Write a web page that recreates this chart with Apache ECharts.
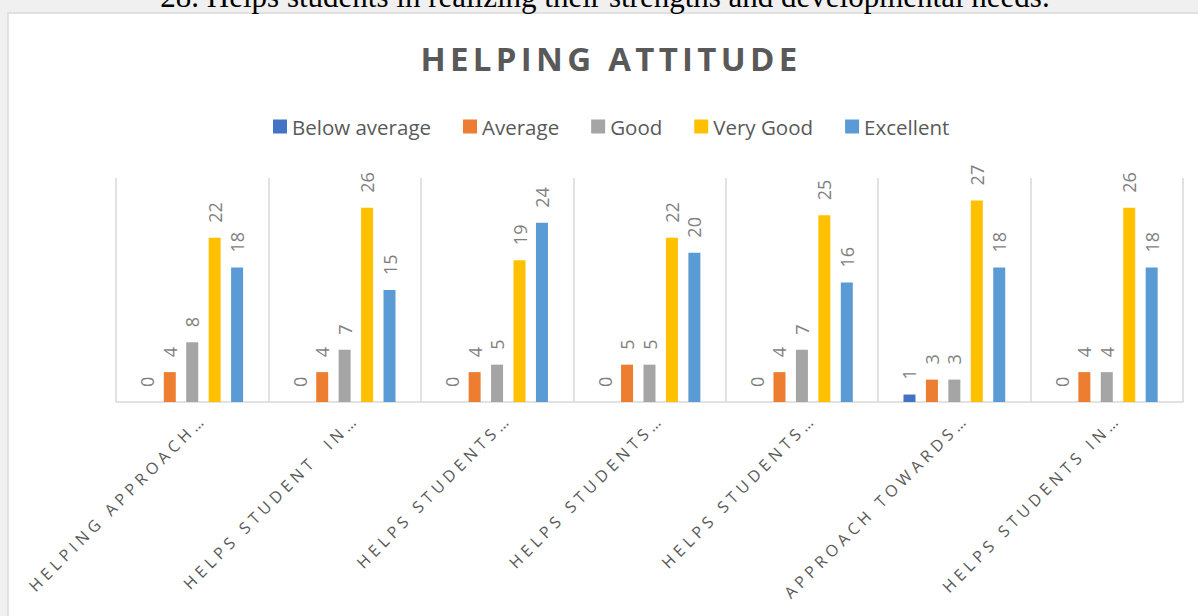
<!DOCTYPE html>
<html>
<head>
<meta charset="utf-8">
<script src="https://cdn.jsdelivr.net/npm/echarts@6/dist/echarts.min.js"></script>
<style>
body { margin: 0; background: #f0f0f0; }
#main { width: 1198px; height: 616px; }
/* excel style spaced caps for title and category labels */
#main text[style*="33px"] { letter-spacing: 4.3px; }
#main text[style*="16px"] { letter-spacing: 4.5px; }
</style>
</head>
<body>
<div id="main"></div>
<script>
var heading = '28. Helps students in realizing their strengths and developmental needs.';
var chartTitle = 'HELPING ATTITUDE';
var categories = ['HELPING APPROACH\u2026', 'HELPS STUDENT  IN\u2026', 'HELPS STUDENTS\u2026', 'HELPS STUDENTS\u2026', 'HELPS STUDENTS\u2026', 'APPROACH TOWARDS\u2026', 'HELPS STUDENTS IN\u2026'];
var seriesNames = ['Below average', 'Average', 'Good', 'Very Good', 'Excellent'];
var belowAverage = [0, 0, 0, 0, 0, 1, 0];
var average = [4, 4, 4, 5, 4, 3, 4];
var good = [8, 7, 5, 5, 7, 3, 4];
var veryGood = [22, 26, 19, 22, 25, 27, 26];
var excellent = [18, 15, 24, 20, 16, 18, 18];
var colors = ['#4472c4', '#ed7d31', '#a5a5a5', '#ffc000', '#5b9bd5'];

var allValues = [belowAverage, average, good, veryGood, excellent];

var series = [];
for (var i = 0; i < seriesNames.length; i++) {
    series.push({
        name: seriesNames[i],
        type: 'bar',
        data: allValues[i],
        barWidth: 12,
        barGap: '87%',
        itemStyle: { color: colors[i] },
        label: {
            show: true,
            position: 'top',
            rotate: 90,
            align: 'left',
            verticalAlign: 'middle',
            distance: 15,
            color: '#7f7f7f',
            fontSize: 18,
            fontFamily: 'Open Sans'
        }
    });
}

var myChart = echarts.init(document.getElementById('main'), null, { renderer: 'svg' });

var option = {
    backgroundColor: '#f0f0f0',
    animation: false,
    color: colors,
    graphic: [
        {
            type: 'rect',
            shape: { x: 8, y: 13, width: 1200, height: 620 },
            style: { fill: '#ffffff', stroke: '#d9d9d9', lineWidth: 1.5 },
            z: -10
        },
        {
            type: 'text',
            style: {
                text: heading,
                x: 605,
                y: -4,
                textAlign: 'center',
                textVerticalAlign: 'middle',
                font: '31px "Liberation Serif"',
                fill: '#000000'
            }
        },
        {
            type: 'text',
            style: {
                text: chartTitle,
                x: 611,
                y: 58,
                textAlign: 'center',
                textVerticalAlign: 'middle',
                font: 'bold 33px "Open Sans"',
                fill: '#595959'
            }
        }
    ],
    legend: {
        data: seriesNames,
        left: 273,
        top: 116,
        padding: 0,
        icon: 'rect',
        itemWidth: 14,
        itemHeight: 14,
        itemGap: 32,
        textStyle: { color: '#595959', fontSize: 20.5, fontFamily: 'Open Sans' }
    },
    grid: { left: 116, right: 15, top: 178, bottom: 214, containLabel: false },
    xAxis: {
        type: 'category',
        data: categories,
        axisLine: { lineStyle: { color: '#d9d9d9', width: 1.5 } },
        axisTick: { show: false },
        splitLine: { show: true, interval: 0, lineStyle: { color: '#d9d9d9', width: 1.5 } },
        axisLabel: {
            interval: 0,
            rotate: 45,
            margin: 3,
            verticalAlign: 'top',
            lineHeight: 32,
            color: '#595959',
            fontSize: 16,
            fontFamily: 'Open Sans'
        }
    },
    yAxis: {
        type: 'value',
        min: 0,
        max: 30,
        show: false,
        splitLine: { show: false }
    },
    series: series
};

myChart.setOption(option);
</script>
</body>
</html>
